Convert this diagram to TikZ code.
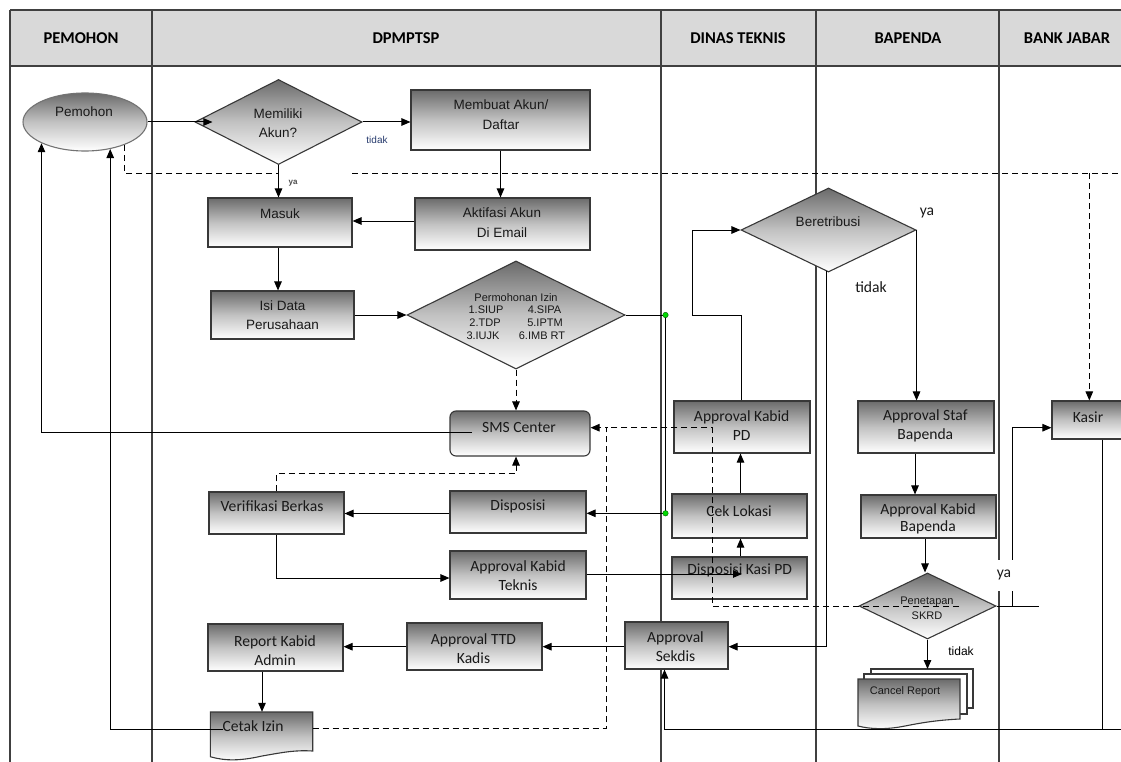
\documentclass[tikz,border=0pt]{standalone}
\usepackage{fontspec}
\setmainfont{Liberation Sans}
\newfontfamily\calibfont{Carlito}
\usetikzlibrary{shapes.geometric,arrows.meta}
\definecolor{navyt}{RGB}{40,60,110}
\definecolor{hdrgray}{RGB}{217,217,217}
\begin{document}
\begin{tikzpicture}[x=1pt,y=-1pt,
 lane/.style={draw=black!75,line width=1.2pt},
 shadefill/.style={top color=black!58,bottom color=white,middle color=black!24},
 boxline/.style={draw=black!78,line width=1.1pt},
 box/.style={boxline,shadefill,rectangle,inner sep=0pt},
 dia/.style={boxline,shadefill,diamond,inner sep=0pt},
 conn/.style={draw=black,line width=1pt},
 arr/.style={conn,-{Triangle[length=9pt,width=7.5pt]}},
 dsh/.style={conn,dash pattern=on 6pt off 4pt},
 darr/.style={dsh,-{Triangle[length=9pt,width=7.5pt]}},
 ar/.style={font=\fontsize{13.5}{19.5}\selectfont,text=black!90,align=center,inner sep=0pt},
 cb/.style={font=\calibfont\fontsize{15.6}{19}\selectfont,text=black!90,align=center,inner sep=0pt},
 hd/.style={font=\calibfont\bfseries\fontsize{16.5}{19}\selectfont,inner sep=0pt},
 sm/.style={font=\fontsize{11}{13}\selectfont,text=black!90,inner sep=0pt},
 gdot/.style={circle,fill=green!85!black,draw=green!35!black,line width=0.4pt,inner sep=0pt,minimum size=5.5pt},
]
\useasboundingbox (0,0) rectangle (1121,762);
\fill[white] (0,0) rectangle (1121,762);
% header and lanes
\fill[hdrgray] (10,10) rectangle (1125,66);
\draw[lane] (10,10) -- (1125,10);
\draw[lane] (10,66) -- (1125,66);
\foreach \xx in {10,152,661,816,999} \draw[lane] (\xx,10) -- (\xx,762);
\node[hd] (hPem) at (81,38) {PEMOHON};
\node[hd] (hDp) at (406,38) {DPMPTSP};
\node[hd] (hDin) at (738,38) {DINAS TEKNIS};
\node[hd] (hBap) at (908,38) {BAPENDA};
\node[hd] (hBank) at (1067,38) {BANK JABAR};

% shapes
\node[draw=black!55,line width=1.1pt,shadefill,ellipse,minimum width=124,minimum height=58,inner sep=0pt] (pemohon) at (85,122) {};
\node[dia,minimum width=167,minimum height=85] (memiliki) at (278.5,122) {};
\node[box,minimum width=179,minimum height=60] (membuat) at (500.5,120) {};
\node[box,minimum width=175,minimum height=52] (aktifasi) at (502.5,224) {};
\node[box,minimum width=144,minimum height=49] (masuk) at (280,222.5) {};
\node[box,minimum width=143,minimum height=48] (isidata) at (282.5,315) {};
\node[dia,minimum width=218,minimum height=108] (permohonan) at (516,315) {};
\node[box,rounded corners=6pt,minimum width=140,minimum height=45] (sms) at (520,433.5) {};
\node[box,minimum width=135,minimum height=42] (verif) at (276.5,513) {};
\node[box,minimum width=136,minimum height=42] (dispo) at (518,512) {};
\node[box,minimum width=136,minimum height=48] (akt) at (518,575) {};
\node[box,minimum width=135,minimum height=47] (report) at (275.5,647.5) {};
\node[box,minimum width=135,minimum height=47] (ttd) at (474.5,646.5) {};
\node[box,minimum width=103,minimum height=47] (sekdis) at (676.5,645.5) {};
\node[dia,minimum width=175,minimum height=84] (beret) at (828.5,230) {};
\node[box,minimum width=136,minimum height=52] (akpd) at (742,427) {};
\node[box,minimum width=135,minimum height=44] (cek) at (739.5,516) {};
\node[box,minimum width=135,minimum height=42] (dkpd) at (739.5,578) {};
\node[box,minimum width=136,minimum height=52] (staf) at (926,427) {};
\node[box,minimum width=135,minimum height=43] (kbap) at (928.5,516.5) {};
\node[dia,minimum width=137,minimum height=66] (pen) at (927.5,606) {};
\node[box,minimum width=73,minimum height=38] (kasir) at (1088.5,420) {};
% Cetak Izin document
\path[boxline,shadefill] (210.3,712) -- (312.7,712) -- (312.7,751)
  .. controls (295,750) and (285,752) .. (262,756)
  .. controls (240,761) and (225,761) .. (210.3,756.7) -- cycle;
\node[inner sep=0pt,minimum width=102,minimum height=39] (cetak) at (261.5,731.5) {};
% Cancel Report multi document
\filldraw[boxline,fill=white] (871,669) rectangle (973,708);
\filldraw[boxline,fill=white] (864,674) rectangle (967,714);
\path[boxline,shadefill] (858,679) -- (960,679) -- (960,719)
  .. controls (940,720) and (925,722) .. (905,726)
  .. controls (885,730) and (870,729) .. (858,726) -- cycle;
\node[inner sep=0pt,minimum width=102,minimum height=47] (cancel) at (909,702) {};

% texts
\node[ar] (tPem) at (84,112) {Pemohon};
\node[ar] (tMem) at (278,123) {Memiliki\\Akun?};
\node[ar] (tMemb) at (501,114.5) {Membuat Akun/\\Daftar};
\node[ar] (tAkt) at (502,222.5) {Aktifasi Akun\\Di Email};
\node[ar] (tMas) at (280,214) {Masuk};
\node[ar] (tIsi) at (282.5,315) {Isi Data\\Perusahaan};
\node[sm] (tPerm) at (516,297.5) {Permohonan Izin};
\node[sm] (tP1) at (486,309.5) {1.SIUP};
\node[sm] (tP2) at (485,322.5) {2.TDP};
\node[sm] (tP3) at (483,335.5) {3.IUJK};
\node[sm] (tP4) at (544.5,309.5) {4.SIPA};
\node[sm] (tP5) at (545,322.5) {5.IPTM};
\node[sm] (tP6) at (542,335.5) {6.IMB RT};
\node[cb] (tSms) at (519,427) {SMS Center};
\node[cb] (tVer) at (272,505.7) {Verifikasi Berkas};
\node[cb] (tDis) at (518,506) {Disposisi};
\node[cb] (tAkt2) at (518,575.7) {Approval Kabid\\Teknis};
\node[cb] (tRep) at (275,650.7) {Report Kabid\\Admin};
\node[cb] (tTtd) at (473.5,648.5) {Approval TTD\\Kadis};
\node[cb] (tCet) at (253,725.7) {Cetak Izin};
\node[cb] (tSek) at (675.5,646.7) {Approval\\Sekdis};
\node[ar] (tBer) at (828,221.7) {Beretribusi};
\node[cb] (tAkpd) at (741.7,425.5) {Approval Kabid\\PD};
\node[cb] (tCek) at (739,510.7) {Cek Lokasi};
\node[cb] (tDkpd) at (739.7,570) {Disposisi Kasi PD};
\node[cb] (tStaf) at (925.3,426) {Approval Staf\\Bapenda};
\node[cb,font=\calibfont\fontsize{15.6}{16.5}\selectfont] (tKbap) at (928,519) {Approval Kabid\\Bapenda};
\node[sm,align=center,font=\fontsize{11}{15}\selectfont] (tPen) at (927,608.5) {Penetapan\\SKRD};
\node[sm] (tCan) at (905,692) {Cancel Report};
\node[cb] (tKas) at (1088,417.3) {Kasir};

% connectors
\draw[arr] (pemohon.east) -- ([xshift=18pt]memiliki.west);
\draw[arr] (memiliki.east) -- (membuat.west |- memiliki.east);
\draw[arr] (memiliki.south) -- (memiliki.south |- masuk.north);
\draw[arr] (membuat.south) -- (membuat.south |- aktifasi.north);
\draw[arr] (aktifasi.west |- 0,221) -- (masuk.east |- 0,221);
\draw[arr] (278,0 |- masuk.south) -- (278,0 |- isidata.north);
\draw[arr] (isidata.east) -- (permohonan.west);
\coordinate (g1) at (665.5,315);
\coordinate (g2) at (665.5,513.3);
\draw[arr] (permohonan.east) -- (g1) -- (g2) -- (dispo.east |- g2);
\draw[arr] (dispo.west |- 0,513.5) -- (verif.east |- 0,513.5);
\draw[arr] (verif.south) |- (akt.west |- 0,578);
\draw[arr] (akt.east |- 0,574) -- ([xshift=2.5pt]dkpd.center |- 0,574);
\draw[arr] (740.5,0 |- dkpd.north) -- (740.5,0 |- cek.south);
\draw[arr] (740.5,0 |- cek.north) -- (740.5,0 |- akpd.south);
\draw[arr] (741,0 |- akpd.north) -- (741,315) -- (692,315) -- (692,230) -- (beret.west);
\draw[arr] (beret.east) -- (beret.east |- staf.north);
\draw[arr] (826,271) -- (826,646.7) -- (sekdis.east |- 0,646.7);
\draw[arr] (915,0 |- staf.south) -- (915,0 |- kbap.north);
\draw[arr] (925,0 |- kbap.south) -- (925,0 |- pen.north);
\draw[arr] (pen.south) -- (pen.south |- 0,669);
\draw[arr] (pen.east) -- (1012,606) -- (1012,427.7) -- (kasir.west |- 0,427.7);
\draw[conn] (1012,606) -- (1039,606);
\draw[arr] (1102.7,0 |- kasir.south) -- (1102.7,729) -- (664.5,729) -- (664.5,0 |- sekdis.south);
\draw[conn] (1102.7,729) -- (1125,729);
\draw[arr] (sekdis.west |- 0,646.7) -- (ttd.east |- 0,646.7);
\draw[arr] (ttd.west |- 0,646.7) -- (report.east |- 0,646.7);
\draw[arr] (262,0 |- report.south) -- (262,0 |- cetak.north);
\draw[arr] ([shift={(-38.5,-2.5)}]cetak.center) -| (pemohon.313);
\draw[arr] ([shift={(-48,-1.5)}]sms.center) -| (pemohon.206);
% dashed
\draw[dsh] (pemohon.330) |- (278,173.3);
\draw[dsh] (352,173.3) -- (1125,173.3);
\draw[darr] (1089.3,173.3) -- (1089.3,0 |- kasir.north);
\draw[darr] (permohonan.south) -- (permohonan.south |- sms.north);
\draw[darr] (verif.north) -- (276.5,473.7) -- (516,473.7) -- (516,0 |- sms.south);
\draw[darr] (cetak.east |- 0,728.3) -- (606.7,728.3) -- (606.7,427.7) -- (sms.east |- 0,427.7);
\draw[dsh] ([xshift=31.5pt]pen.center) -- (712,606) -- (712,427.7) -- (606.7,427.7);

% labels
\node[font=\fontsize{10}{12}\selectfont,text=navyt,inner sep=0pt] (lT1) at (377,140) {tidak};
\node[font=\bfseries\fontsize{8}{10}\selectfont,text=black!70,inner sep=0pt] (lY1) at (293,183) {ya};
\node[cb] (lY2) at (927,213) {ya};
\node[cb] (lT2) at (871,287) {tidak};
\node[font=\fontsize{12}{14}\selectfont,inner sep=0pt] (lT3) at (961,651) {tidak};
\node[cb,fill=white,minimum width=24pt,minimum height=31pt] (lY3) at (1004,575) {ya};
\node[gdot] (d1) at (g1) {};
\node[gdot] (d2) at (g2) {};
\end{tikzpicture}
\end{document}
